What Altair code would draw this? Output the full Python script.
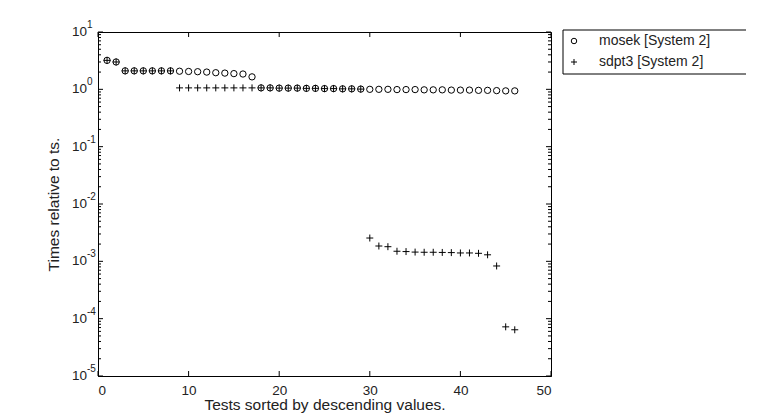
import altair as alt
import pandas as pd

# ---------------- data ----------------
tests = list(range(1, 47))

mosek = [3.2, 3.0, 2.1, 2.1, 2.1, 2.1, 2.1, 2.1,
         2.07, 2.05, 2.03, 2.0, 1.95, 1.92, 1.88, 1.85, 1.65,
         1.06, 1.06, 1.05, 1.05, 1.05, 1.04, 1.04, 1.03, 1.03, 1.02, 1.02, 1.01,
         1.0, 1.0, 1.0, 0.99, 0.99, 0.99, 0.98, 0.98, 0.98, 0.97, 0.97, 0.97,
         0.96, 0.96, 0.95, 0.94, 0.94]

sdpt3 = [3.2, 3.0, 2.1, 2.1, 2.1, 2.1, 2.1, 2.1,
         1.06, 1.06, 1.06, 1.06, 1.06, 1.06, 1.06, 1.06, 1.06,
         1.06, 1.06, 1.05, 1.05, 1.05, 1.04, 1.04, 1.03, 1.03, 1.02, 1.02, 1.01,
         2.55e-3, 1.85e-3, 1.8e-3, 1.5e-3, 1.48e-3, 1.45e-3, 1.44e-3, 1.44e-3,
         1.43e-3, 1.42e-3, 1.4e-3, 1.4e-3, 1.38e-3, 1.3e-3, 8.3e-4, 7.2e-5, 6.4e-5]

series_names = ["mosek [System 2]", "sdpt3 [System 2]"]
x_ticks = [0, 10, 20, 30, 40, 50]
y_major = [1e-5, 1e-4, 1e-3, 1e-2, 1e-1, 1, 10]
y_exponents = ["-5", "-4", "-3", "-2", "-1", "0", "1"]
y_minor = [m * 10.0 ** k for k in range(-5, 1) for m in range(2, 10)]

x_title = "Tests sorted by descending values."
y_title = "Times relative to ts."

# ---------------- build ----------------
W, H = 453, 344
FONT = "Liberation Sans"
TXT = "#222"
LEG_X, LEG_Y = 465, -2

df = pd.DataFrame({
    "test": tests * 2,
    "time": mosek + sdpt3,
    "series": [series_names[0]] * len(tests) + [series_names[1]] * len(tests),
})

xscale = alt.Scale(domain=[0, 50], nice=False, zero=False)
yscale = alt.Scale(type="log", domain=[1e-5, 10], nice=False)

points = alt.Chart(df).mark_point(
    filled=False, strokeWidth=1, opacity=1, color="black", size=40
).encode(
    x=alt.X("test:Q", scale=xscale,
            axis=alt.Axis(values=x_ticks, format="d", title=x_title,
                          labelPadding=7, titlePadding=1)),
    y=alt.Y("time:Q", scale=yscale,
            axis=alt.Axis(values=y_major, labels=False, title=y_title,
                          titlePadding=37)),
    shape=alt.Shape("series:N",
                    scale=alt.Scale(domain=series_names,
                                    range=["circle", "M-1.1,0L1.1,0M0,-1.1L0,1.1"]),
                    legend=alt.Legend(title=None, orient="none", legendX=LEG_X, legendY=LEG_Y,
                                      padding=4,
                                      labelFont=FONT, labelFontSize=14, labelColor=TXT,
                                      labelOffset=18, rowPadding=7,
                                      symbolStrokeColor="black", symbolStrokeWidth=1,
                                      symbolSize=30)),
)

# legend frame (decoration around the legend)
frame = alt.Chart(pd.DataFrame({"k": [0]})).mark_rect(
    fillOpacity=0, stroke="black", strokeWidth=1
).encode(x=alt.value(LEG_X), x2=alt.value(LEG_X + 185),
         y=alt.value(LEG_Y), y2=alt.value(LEG_Y + 44))

ylab = pd.DataFrame({"time": y_major, "e": y_exponents})
base_txt = alt.Chart(ylab).mark_text(
    align="right", baseline="middle", font=FONT, fontSize=13.5, color=TXT
).encode(y=alt.Y("time:Q", scale=yscale), x=alt.value(-11), text=alt.value("10"))
exp_txt = alt.Chart(ylab).mark_text(
    align="left", baseline="middle", font=FONT, fontSize=10, color=TXT, dy=-7
).encode(y=alt.Y("time:Q", scale=yscale), x=alt.value(-11), text="e:N")


def yrule(vals, x0, x1):
    return alt.Chart(pd.DataFrame({"time": vals})).mark_rule(
        color="black", strokeWidth=1).encode(
        y=alt.Y("time:Q", scale=yscale),
        x=alt.value(x0), x2=alt.value(x1))


def xrule(vals, y0, y1):
    return alt.Chart(pd.DataFrame({"test": vals})).mark_rule(
        color="black", strokeWidth=1).encode(
        x=alt.X("test:Q", scale=xscale),
        y=alt.value(y0), y2=alt.value(y1))


chart = alt.layer(
    points, base_txt, exp_txt,
    yrule(y_major, 0, 5), yrule(y_major, W, W - 5),
    yrule(y_minor, 0, 3), yrule(y_minor, W, W - 3),
    xrule(x_ticks, H, H - 5), xrule(x_ticks, 0, 5),
    frame,
).properties(
    width=W, height=H,
    autosize=alt.AutoSizeParams(type="none"),
    padding={"left": 90, "top": 24, "right": 195, "bottom": 42},
).configure_view(
    stroke="black", strokeWidth=1
).configure_axis(
    ticks=False, grid=False, domainColor="black", domainWidth=1,
    labelFont=FONT, labelFontSize=13.5, labelColor=TXT,
    titleFont=FONT, titleFontSize=15.5, titleFontWeight="normal", titleColor=TXT,
)

chart.save("out.html", embed_options={"renderer": "svg", "actions": False})
